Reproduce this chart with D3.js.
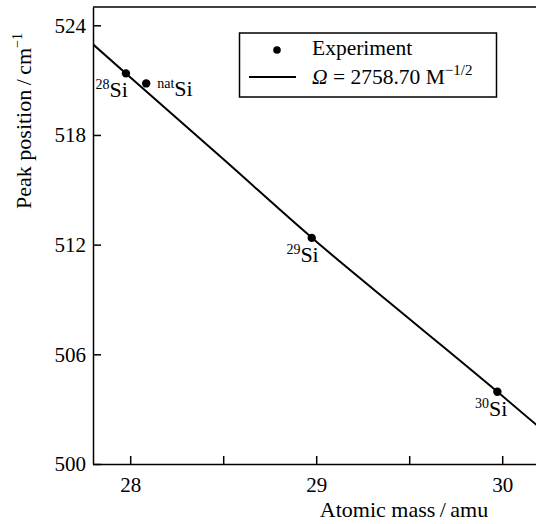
<!DOCTYPE html>
<html>
<head>
<meta charset="utf-8">
<script src="https://cdn.jsdelivr.net/npm/d3@7"></script>
</head>
<body style="margin:0">
<svg width="536" height="524"></svg>
<script>
// data
var isotopes = ['28', 'nat', '29', '30'];
var masses = [27.977, 28.086, 28.976, 29.974];
var peaks = [521.37, 520.82, 512.37, 503.95];

// fit line Ω = 2758.70 M^-1/2
var fitMass = [27.8, 28.0, 28.5, 29.0, 29.5, 30.0, 30.2];
var fitPeak = [522.96, 521.16, 516.68, 512.17, 507.95, 503.73, 502.0];

var xTicks = [28, 28.5, 29, 29.5, 30];
var yTicks = [500, 506, 512, 518, 524];

var svg = d3.select('svg');
var svgWidth = +svg.attr('width');
var svgHeight = +svg.attr('height');

var plot = {l: 93, t: 7, b: 464};

var xScale = d3.scaleLinear()
    .domain([27.8, 30.2])
    .range([plot.l, plot.l + 2.4 * 186]);

var yScale = d3.scaleLinear()
    .domain([500, 525])
    .range([plot.b, plot.t]);

svg.append('clipPath').attr('id', 'clip')
  .append('rect')
    .attr('x', plot.l).attr('y', plot.t)
    .attr('width', svgWidth - plot.l).attr('height', plot.b - plot.t);

// top frame line
svg.append('line')
    .attr('x1', plot.l).attr('x2', svgWidth)
    .attr('y1', plot.t).attr('y2', plot.t)
    .attr('stroke', '#000').attr('stroke-width', 1.5);

var xAxis = d3.axisBottom(xScale)
    .tickValues(xTicks)
    .tickSizeInner(-8)
    .tickSizeOuter(0)
    .tickPadding(13)
    .tickFormat(function(d) { return d % 1 === 0 ? d : ''; });

var gx = svg.append('g')
    .attr('class', 'x axis')
    .attr('transform', 'translate(0,' + plot.b + ')')
    .call(xAxis);

var yAxis = d3.axisLeft(yScale)
    .tickValues(yTicks)
    .tickSizeInner(-8)
    .tickSizeOuter(0)
    .tickPadding(7);

var gy = svg.append('g')
    .attr('class', 'y axis')
    .attr('transform', 'translate(' + plot.l + ',0)')
    .call(yAxis);

[gx, gy].forEach(function(g) {
    g.selectAll('path, line').attr('stroke', '#000').attr('stroke-width', 1.5);
    g.selectAll('text').attr('fill', '#000').style('font-size', '21px');
});

// axis titles
svg.append('text')
    .attr('x', 404).attr('y', 517)
    .attr('text-anchor', 'middle')
    .style('font-size', '22px')
    .text('Atomic mass\u2009/\u2009amu');

var yTitle = svg.append('text')
    .attr('transform', 'translate(31,121) rotate(-90)')
    .attr('text-anchor', 'middle')
    .style('font-size', '22px');
yTitle.append('tspan').text('Peak position\u2009/\u2009cm');
yTitle.append('tspan').attr('dy', -9).style('font-size', '14px').text('\u22121');

// fit line
var line = d3.line()
    .x(function(d, i) { return xScale(fitMass[i]); })
    .y(function(d) { return yScale(d); })
    .curve(d3.curveMonotoneX);

svg.append('path')
    .datum(fitPeak)
    .attr('clip-path', 'url(#clip)')
    .attr('d', line)
    .attr('fill', 'none')
    .attr('stroke', '#000')
    .attr('stroke-width', 2);

// experiment points
svg.selectAll('.dot')
    .data(peaks)
    .enter()
    .append('circle')
    .attr('class', 'dot')
    .attr('cx', function(d, i) { return xScale(masses[i]); })
    .attr('cy', function(d) { return yScale(d); })
    .attr('r', 4.2)
    .attr('fill', '#000');

// isotope labels: offset from point, anchor
var labelPos = [
    {dx: 2, dy: 24, anchor: 'end'},
    {dx: 11, dy: 13, anchor: 'start'},
    {dx: 7, dy: 24, anchor: 'end'},
    {dx: 10, dy: 24, anchor: 'end'}
];

svg.selectAll('.iso')
    .data(peaks)
    .enter()
    .append('text')
    .attr('class', 'iso')
    .attr('x', function(d, i) { return xScale(masses[i]) + labelPos[i].dx; })
    .attr('y', function(d, i) { return yScale(d) + labelPos[i].dy; })
    .attr('text-anchor', function(d, i) { return labelPos[i].anchor; })
    .style('font-size', '22px')
    .each(function(d, i) {
        var t = d3.select(this);
        t.append('tspan').attr('dy', -8).style('font-size', '14px').text(isotopes[i]);
        t.append('tspan').attr('dy', 8).text('Si');
    });

// legend
var legend = svg.append('g').attr('class', 'legend');
legend.append('rect')
    .attr('x', 239.5).attr('y', 33)
    .attr('width', 257).attr('height', 64)
    .attr('fill', '#fff')
    .attr('stroke', '#000')
    .attr('stroke-width', 1.5);
legend.append('circle')
    .attr('cx', 277).attr('cy', 50).attr('r', 3.8).attr('fill', '#000');
legend.append('line')
    .attr('x1', 249).attr('x2', 296)
    .attr('y1', 77).attr('y2', 77)
    .attr('stroke', '#000').attr('stroke-width', 2);
legend.append('text')
    .attr('x', 312).attr('y', 55)
    .style('font-size', '21.5px')
    .text('Experiment');
var fitText = legend.append('text')
    .attr('x', 312).attr('y', 84)
    .style('font-size', '21.5px');
fitText.append('tspan').style('font-style', 'italic').text('\u03A9');
fitText.append('tspan').text(' = 2758.70 M');
fitText.append('tspan').attr('dy', -9).style('font-size', '15px').text('\u22121/2');

// serif everywhere
svg.selectAll('text').style('font-family', '"Liberation Serif", serif');
</script>
</body>
</html>
